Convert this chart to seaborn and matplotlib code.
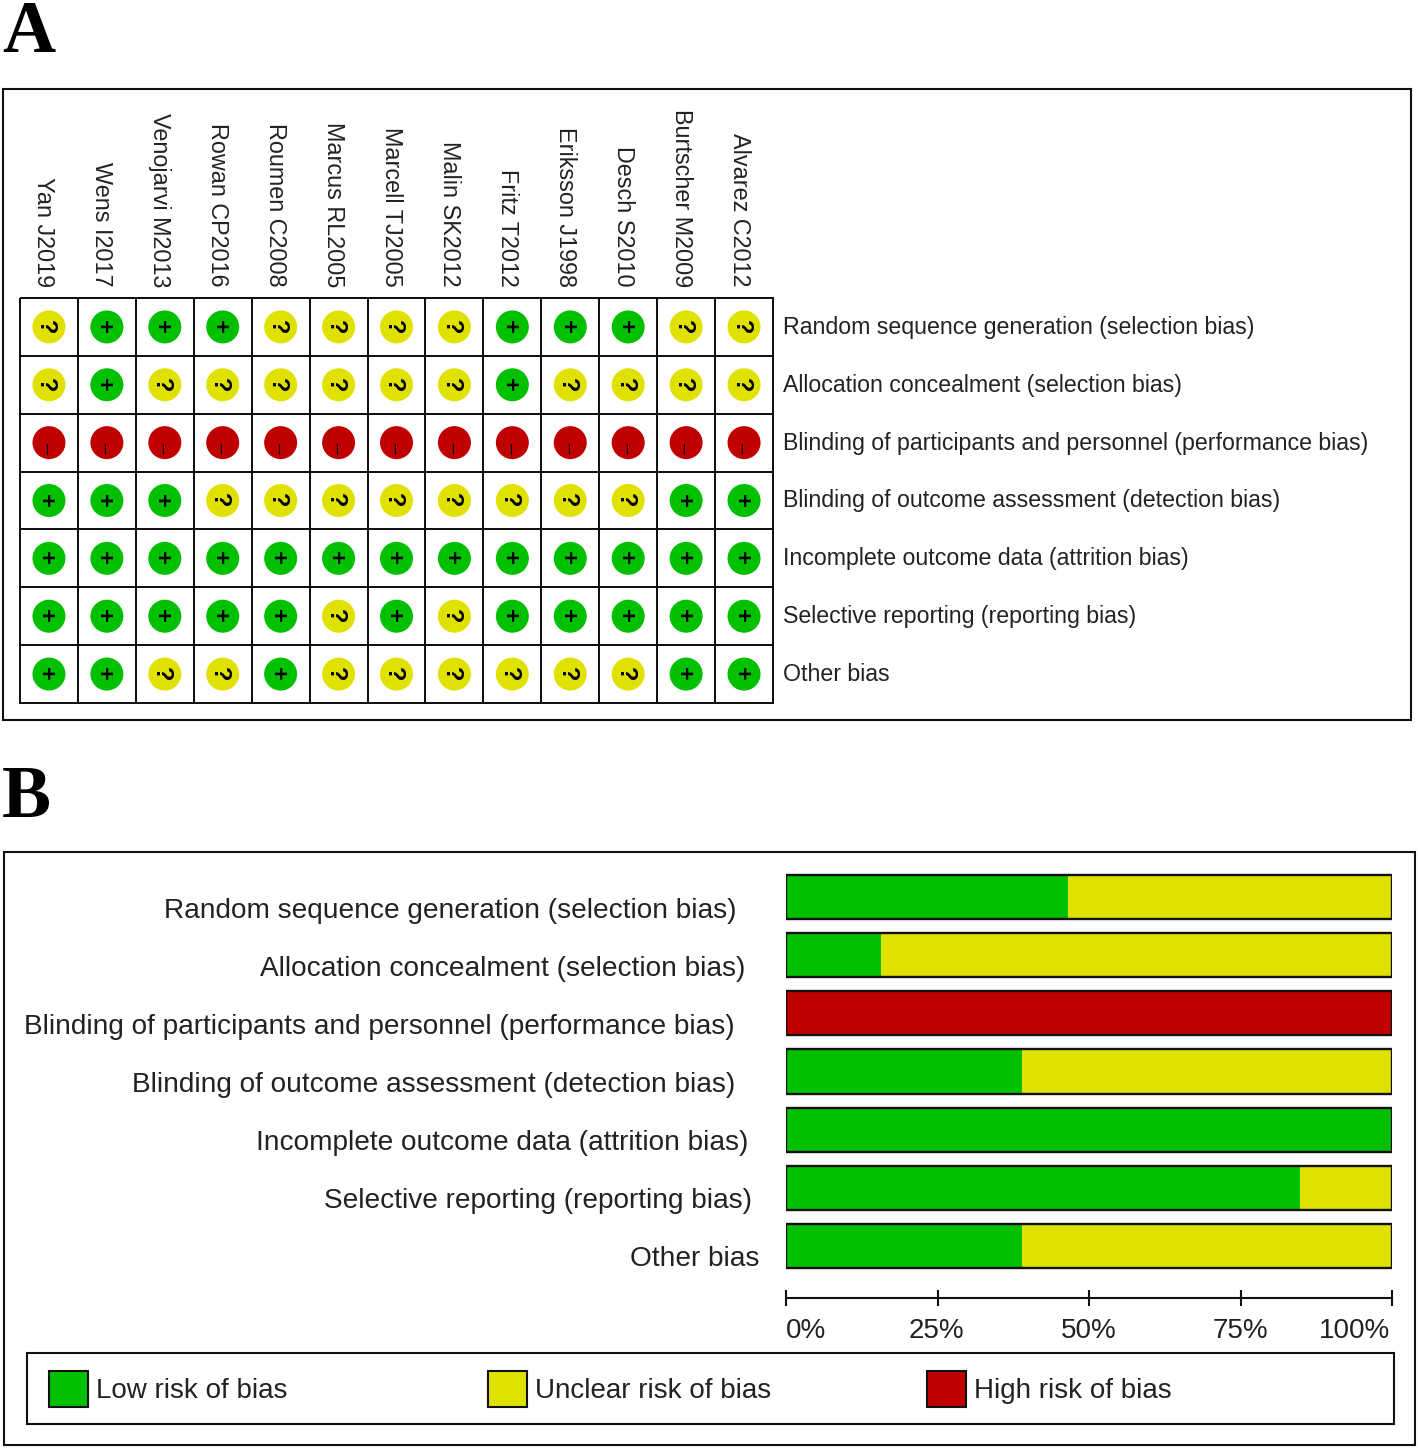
import numpy as np
import pandas as pd
import matplotlib
matplotlib.use("Agg")
import matplotlib.pyplot as plt
import seaborn as sns
from matplotlib.patches import Rectangle, Patch
from matplotlib.colors import ListedColormap
from matplotlib.transforms import ScaledTranslation

# data
studies = ["Yan J2019", "Wens I2017", "Venojarvi M2013", "Rowan CP2016", "Roumen C2008",
           "Marcus RL2005", "Marcell TJ2005", "Malin SK2012", "Fritz T2012", "Eriksson J1998",
           "Desch S2010", "Burtscher M2009", "Alvarez C2012"]
domains = ["Random sequence generation (selection bias)",
           "Allocation concealment (selection bias)",
           "Blinding of participants and personnel (performance bias)",
           "Blinding of outcome assessment (detection bias)",
           "Incomplete outcome data (attrition bias)",
           "Selective reporting (reporting bias)",
           "Other bias"]
judgements = [
    list("?+++????+++??"),
    list("?+??????+????"),
    list("-------------"),
    list("+++????????++"),
    list("+++++++++++++"),
    list("+++++?+?+++++"),
    list("++??+??????++"),
]
low_pct = [46.5, 15.6, 0, 39, 100, 84.9, 39]
unclear_pct = [53.5, 84.4, 0, 61, 0, 15.1, 61]
high_pct = [0, 0, 100, 0, 0, 0, 0]
pct_ticks = [0, 25, 50, 75, 100]
legend_labels = ["Low risk of bias", "Unclear risk of bias", "High risk of bias"]

GREEN = "#00C000"
YELLOW = "#E1E100"
RED = "#C00000"
TEXT = "#222222"
W, H = 1418, 1449
PX = 72 / 100  # points per pixel

sns.set_theme(style="white")
plt.rcParams["font.family"] = ["Liberation Sans", "DejaVu Sans"]


def px_rect(x0, y0, x1, y1):
    return [x0 / W, 1 - y1 / H, (x1 - x0) / W, (y1 - y0) / H]


def nudge(label, dx_px, dy_px):
    # move a tick label by some pixels, y goes up
    label.set_transform(label.get_transform() + ScaledTranslation(dx_px / 100, dy_px / 100, fig.dpi_scale_trans))


fig = plt.figure(figsize=(W / 100, H / 100), dpi=100, facecolor="white")

for box in [(2.5, 89, 1411, 720), (3.5, 852, 1415, 1445), (27, 1353, 1394, 1424)]:
    r = px_rect(*box)
    fig.add_artist(Rectangle((r[0], r[1]), r[2], r[3], transform=fig.transFigure,
                             fill=False, edgecolor="#111111", linewidth=1.5))

fig.text(2 / W, 1 - 52 / H, "A", family="Liberation Serif", weight="bold", fontsize=53, color="black")
fig.text(2 / W, 1 - 817 / H, "B", family="Liberation Serif", weight="bold", fontsize=53, color="black")

# Panel A: traffic light grid
ax_a = fig.add_axes(px_rect(20, 298, 773, 703))
grid_df = pd.DataFrame(np.zeros((len(domains), len(studies))), index=domains, columns=studies)
sns.heatmap(grid_df, ax=ax_a, cmap=ListedColormap(["white"]), cbar=False,
            linewidths=1.1, linecolor="#111111", clip_on=False)
ax_a.xaxis.tick_top()
ax_a.yaxis.tick_right()
ax_a.tick_params(axis="x", length=0, pad=8, labelsize=16.8, labelcolor=TEXT, labelrotation=-90)
ax_a.tick_params(axis="y", length=0, pad=7, labelsize=16.7, labelcolor=TEXT, labelrotation=0)
for lab in ax_a.get_xticklabels():
    lab.set_va("bottom")
    nudge(lab, -5, 0)
for lab in ax_a.get_yticklabels():
    nudge(lab, 0, 2)

rows = []
for i, d in enumerate(domains):
    for j, s in enumerate(studies):
        rows.append({"col": j + 0.5, "row": i + 0.5, "judgement": judgements[i][j]})
marks = pd.DataFrame(rows)
sns.scatterplot(data=marks, x="col", y="row", hue="judgement",
                palette={"+": GREEN, "?": YELLOW, "-": RED},
                s=(33 * PX) ** 2, linewidth=0, legend=False, ax=ax_a, zorder=3)
ax_a.set_xlabel("")
ax_a.set_ylabel("")
for _, m in marks.iterrows():
    if m["judgement"] == "-":
        ax_a.annotate("\u2013", (m["col"], m["row"]), xytext=(-2 * PX, -6 * PX), textcoords="offset points",
                      ha="center", va="center", rotation=-90, fontsize=14,
                      color="black", zorder=4)
    else:
        ax_a.annotate(m["judgement"], (m["col"], m["row"]), xytext=(-3 * PX, 0), textcoords="offset points",
                      ha="center", va="center", rotation=-90, fontsize=17, weight="bold",
                      color="black", zorder=4)

# Panel B: stacked bars
ax_b = fig.add_axes(px_rect(786, 868, 1392, 1275))
bars = pd.DataFrame({"domain": domains, "low": low_pct, "unclear": unclear_pct, "high": high_pct})
bars["low_unclear"] = bars["low"] + bars["unclear"]
bars["total"] = bars["low_unclear"] + bars["high"]
sns.barplot(data=bars, y="domain", x="total", color=RED, saturation=1, width=0.76, linewidth=0, ax=ax_b)
sns.barplot(data=bars, y="domain", x="low_unclear", color=YELLOW, saturation=1, width=0.76, linewidth=0, ax=ax_b)
sns.barplot(data=bars, y="domain", x="low", color=GREEN, saturation=1, width=0.76, linewidth=0, ax=ax_b)
sns.barplot(data=bars, y="domain", x="total", fill=False, color="black", saturation=1,
            width=0.76, linewidth=1.7, edgecolor="#111111", ax=ax_b)
ax_b.set_xlim(0, 100)
ax_b.set_xlabel("")
ax_b.set_ylabel("")
sns.despine(ax=ax_b, left=True, top=True, right=True)
ax_b.spines["bottom"].set_position(("outward", 23 * PX))
ax_b.spines["bottom"].set_linewidth(1.5)
ax_b.spines["bottom"].set_color("#111111")
ax_b.set_xticks(pct_ticks)
ax_b.set_xticklabels([f"{t}%" for t in pct_ticks])
ax_b.tick_params(axis="x", direction="inout", length=16 * PX, width=1.5, color="#111111",
                 bottom=True, labelsize=20, labelcolor=TEXT, pad=8.5)
xlabs = ax_b.get_xticklabels()
xlabs[0].set_ha("left")
xlabs[-1].set_ha("right")
nudge(xlabs[-1], -2, 0)
nudge(xlabs[1], -1, 0)

# y labels in the original do not line up on the right
label_gaps = [49, 41, 51, 51, 38, 34, 27]
ax_b.tick_params(axis="y", length=0, labelsize=20.15, labelcolor=TEXT)
for tick, gap in zip(ax_b.yaxis.get_major_ticks(), label_gaps):
    tick.set_pad(gap * PX)
    nudge(tick.label1, 0, -10.5)

# legend
for label, col, x in zip(legend_labels, [GREEN, YELLOW, RED], [49, 488, 927]):
    fig.legend(handles=[Patch(facecolor=col, edgecolor="#111111", linewidth=1.5, label=label)],
               loc="center left", bbox_to_anchor=(x / W, 1 - 1389 / H), frameon=False,
               fontsize=20, labelcolor=TEXT, handlelength=1.4, handleheight=1.65,
               handletextpad=0.3, borderpad=0, borderaxespad=0)

fig.savefig("out.png", dpi=100)
